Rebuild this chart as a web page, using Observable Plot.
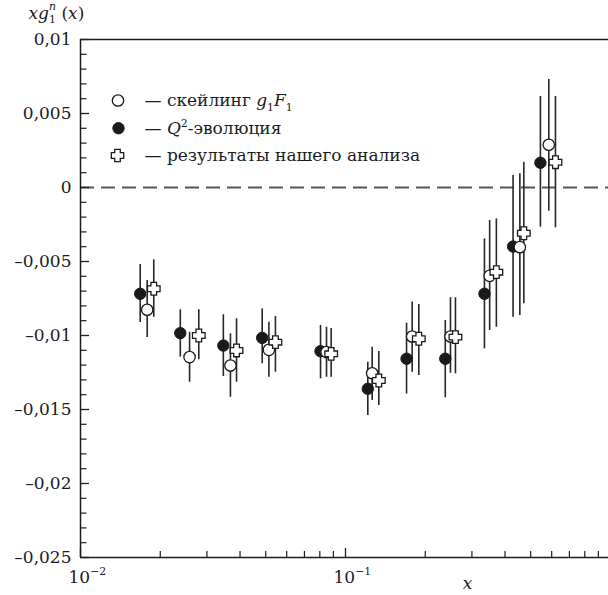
<!DOCTYPE html>
<html>
<head>
<meta charset="utf-8">
<script src="https://cdn.jsdelivr.net/npm/d3@7"></script>
<script src="https://cdn.jsdelivr.net/npm/@observablehq/plot@0.6"></script>
<style>
  html, body { margin: 0; padding: 0; background: #fff; }
  svg { display: block; }
  #chart svg, #chart svg text { font-family: "DejaVu Serif", "Liberation Serif", serif !important; }
</style>
</head>
<body>
<div id="chart"></div>
<script>
// ---------- data ----------
// ○ scaling g1F1
const scalingX  = [0.01785, 0.0258, 0.0368, 0.0514, 0.0848, 0.1261, 0.1785, 0.249, 0.350, 0.455, 0.585];
const scalingY  = [-0.00826, -0.01146, -0.01203, -0.01097, -0.01112, -0.01255, -0.01007, -0.01007, -0.00597, -0.00403, 0.00289];
const scalingLo = [-0.01014, -0.01316, -0.01417, -0.01282, -0.01282, -0.01439, -0.01248, -0.01255, -0.00966, -0.00865, -0.00160];
const scalingHi = [-0.00628, -0.00978, -0.00989, -0.00910, -0.00944, -0.01079, -0.00774, -0.00745, -0.00223, 0.00093, 0.00730];

// ● Q^2 evolution
const evolX  = [0.0168, 0.0238, 0.0346, 0.0485, 0.0805, 0.1214, 0.170, 0.238, 0.3345, 0.429, 0.544];
const evolY  = [-0.00718, -0.00984, -0.01068, -0.01016, -0.01106, -0.01360, -0.01157, -0.01157, -0.00718, -0.00399, 0.00167];
const evolLo = [-0.00912, -0.01146, -0.01277, -0.01191, -0.01293, -0.01541, -0.01395, -0.01421, -0.01090, -0.00876, -0.00268];
const evolHi = [-0.00520, -0.00826, -0.00860, -0.00820, -0.00932, -0.01180, -0.00917, -0.00899, -0.00347, 0.00081, 0.00615];

// ✚ our analysis
const oursX  = [0.0189, 0.02795, 0.0388, 0.0544, 0.0883, 0.1336, 0.1891, 0.260, 0.371, 0.471, 0.620];
const oursY  = [-0.00684, -0.01000, -0.01101, -0.01045, -0.01124, -0.01304, -0.01022, -0.01011, -0.00572, -0.00309, 0.00171];
const oursLo = [-0.00877, -0.01164, -0.01316, -0.01248, -0.01282, -0.01473, -0.01270, -0.01259, -0.00944, -0.00786, -0.00272];
const oursHi = [-0.00489, -0.00826, -0.00887, -0.00872, -0.00953, -0.01108, -0.00791, -0.00745, -0.00212, 0.00171, 0.00615];

// axes
const yTickValues = [0.01, 0.005, 0, -0.005, -0.01, -0.015, -0.02, -0.025];
const yTickLabels = ["0,01", "0,005", "0", "\u20130,005", "\u20130,01", "\u20130,015", "\u20130,02", "\u20130,025"];
const xTickValues = [0.01, 0.1];
const xTickLabels = ["10^{\u22122}", "10^{\u22121}"];
const xMinorValues = [0.02, 0.03, 0.04, 0.05, 0.06, 0.07, 0.08, 0.09, 0.2, 0.3, 0.4, 0.5, 0.6, 0.7, 0.8, 0.9];
const yMinorValues = d3.range(-25, 11).map(i => i / 1000).filter(v => !yTickValues.some(t => Math.abs(t - v) < 1e-9));
const xDomain = [0.01, 0.983];
const yDomain = [-0.025, 0.01];

const yTitle = "*xg*_{1}^{*n*} (*x*)";
const xTitle = "*x*";
const legendLabels = ["\u2014 \u0441\u043a\u0435\u0439\u043b\u0438\u043d\u0433 *g*_{1}*F*_{1}",
                      "\u2014 *Q*^{2}-\u044d\u0432\u043e\u043b\u044e\u0446\u0438\u044f",
                      "\u2014 \u0440\u0435\u0437\u0443\u043b\u044c\u0442\u0430\u0442\u044b \u043d\u0430\u0448\u0435\u0433\u043e \u0430\u043d\u0430\u043b\u0438\u0437\u0430"];

// ---------- build ----------
const rows = (xs, ys, lo, hi) => xs.map((x, i) => ({x, y: ys[i], lo: lo[i], hi: hi[i]}));
const scaling = rows(scalingX, scalingY, scalingLo, scalingHi);
const evol = rows(evolX, evolY, evolLo, evolHi);
const ours = rows(oursX, oursY, oursLo, oursHi);

const crossSymbol = {
  draw(ctx, size) {
    const L = Math.sqrt(size / Math.PI), a = L * 0.45;
    ctx.moveTo(-a, -L); ctx.lineTo(a, -L); ctx.lineTo(a, -a); ctx.lineTo(L, -a);
    ctx.lineTo(L, a); ctx.lineTo(a, a); ctx.lineTo(a, L); ctx.lineTo(-a, L);
    ctx.lineTo(-a, a); ctx.lineTo(-L, a); ctx.lineTo(-L, -a); ctx.lineTo(-a, -a);
    ctx.closePath();
  }
};

const W = 608, H = 595, mL = 80, mR = 0, mT = 39, mB = 38;
const fw = W - mL - mR, fh = H - mT - mB;
const INK = "#1c1c1c";
const FS = 17;
const font = "DejaVu Serif";

const bar = {stroke: "#262626", strokeWidth: 1.6};
const R = 5.7;
const legendDy = [61, 88.7, 116];
const txt = {fontSize: FS, fill: INK, fontFamily: font};

const chart = Plot.plot({
  width: W, height: H,
  marginLeft: mL, marginRight: mR, marginTop: mT, marginBottom: mB,
  x: {type: "log", domain: xDomain, axis: null},
  y: {domain: yDomain, axis: null},
  style: {background: "#fff", color: INK, overflow: "visible"},
  marks: [
    // zero line
    Plot.ruleY([0], {stroke: "#555", strokeWidth: 2, strokeDasharray: "14,7"}),
    // frame
    Plot.ruleY([yDomain[1]], {stroke: INK, strokeWidth: 1.4}),
    Plot.ruleY([yDomain[0]], {stroke: INK, strokeWidth: 1.6}),
    Plot.ruleX([xDomain[0]], {stroke: INK, strokeWidth: 1.5}),
    // inward ticks
    Plot.tickY(yTickValues, {y: d => d, insetRight: fw - 9, stroke: INK, strokeWidth: 1.3}),
    Plot.tickY(yMinorValues, {y: d => d, insetRight: fw - 6.5, stroke: INK, strokeWidth: 1.2}),
    Plot.tickX(xTickValues, {x: d => d, insetTop: fh - 9, stroke: INK, strokeWidth: 1.3}),
    Plot.tickX(xMinorValues, {x: d => d, insetTop: fh - 6, stroke: INK, strokeWidth: 1.2}),
    // tick labels
    Plot.text(yTickValues, {y: d => d, frameAnchor: "left", dx: -9, textAnchor: "end",
      text: (d, i) => yTickLabels[i], ...txt}),
    Plot.text(xTickValues, {x: d => d, frameAnchor: "bottom", dy: 25, dx: -12, textAnchor: "start",
      lineAnchor: "bottom", text: (d, i) => xTickLabels[i], ...txt}),
    // titles
    Plot.text([yTitle], {frameAnchor: "top-left", dx: -52, dy: -21, textAnchor: "start",
      lineAnchor: "bottom", text: d => d, ...txt}),
    Plot.text([xTitle], {frameAnchor: "bottom", dx: 123, dy: 31, textAnchor: "middle",
      lineAnchor: "bottom", text: d => d, ...txt}),
    // error bars
    Plot.ruleX(evol, {x: "x", y1: "lo", y2: "hi", ...bar}),
    Plot.ruleX(scaling, {x: "x", y1: "lo", y2: "hi", ...bar}),
    Plot.ruleX(ours, {x: "x", y1: "lo", y2: "hi", ...bar}),
    // markers
    Plot.dot(evol, {x: "x", y: "y", r: R, fill: "#1a1a1a", stroke: "#1a1a1a", strokeWidth: 1}),
    Plot.dot(scaling, {x: "x", y: "y", r: R, fill: "#fff", stroke: "#1a1a1a", strokeWidth: 1.3}),
    Plot.dot(ours, {x: "x", y: "y", r: 6.3, symbol: crossSymbol, fill: "#fff", stroke: "#1a1a1a", strokeWidth: 1.3}),
    // legend
    Plot.dot([0], {frameAnchor: "top-left", dx: 37.5, dy: legendDy[0], r: R, fill: "#fff", stroke: "#1a1a1a", strokeWidth: 1.3}),
    Plot.dot([0], {frameAnchor: "top-left", dx: 38, dy: legendDy[1], r: R, fill: "#1a1a1a", stroke: "#1a1a1a", strokeWidth: 1}),
    Plot.dot([0], {frameAnchor: "top-left", dx: 37, dy: legendDy[2], r: 6.2, symbol: crossSymbol, fill: "#fff", stroke: "#1a1a1a", strokeWidth: 1.3}),
    ...legendLabels.map((label, i) => Plot.text([label], {frameAnchor: "top-left", dx: 64, dy: legendDy[i],
      textAnchor: "start", lineAnchor: "middle", text: d => d, ...txt}))
  ]
});

document.getElementById("chart").appendChild(chart);

// ---------- rich text: *italic*, _{sub}, ^{sup} ----------
function parseRich(str) {
  const out = []; let i = 0, italic = false, buf = "";
  const flush = () => { if (buf) out.push([buf, italic ? "i" : ""]); buf = ""; };
  while (i < str.length) {
    const c = str[i];
    if (c === "*") { flush(); italic = !italic; i++; }
    else if ((c === "_" || c === "^") && str[i + 1] === "{") {
      flush();
      const j = str.indexOf("}", i);
      let content = str.slice(i + 2, j), it = false;
      if (content.startsWith("*") && content.endsWith("*")) { content = content.slice(1, -1); it = true; }
      out.push([content, (c === "_" ? "sub" : "sup") + (it ? "i" : "")]);
      i = j + 1;
    } else { buf += c; i++; }
  }
  flush();
  return out;
}
function applyRich(svg) {
  const NS = "http://www.w3.org/2000/svg";
  for (const t of svg.querySelectorAll("text")) {
    const s = t.textContent;
    if (!/[*_^]/.test(s)) continue;
    const B = parseFloat(getComputedStyle(t).fontSize) || FS;
    const segs = parseRich(s);
    while (t.firstChild) t.removeChild(t.firstChild);
    let cur = 0, prev = null, prevKind = "";
    for (const [part, kind] of segs) {
      const ts = document.createElementNS(NS, "tspan");
      ts.textContent = part;
      let off = 0;
      const stacked = kind.startsWith("sup") && prevKind.startsWith("sub");
      if (kind.startsWith("sup")) { off = (stacked ? -0.5 : -0.42) * B; ts.setAttribute("font-size", (0.64 * B).toFixed(2)); }
      else if (kind.startsWith("sub")) { off = 0.27 * B; ts.setAttribute("font-size", (0.64 * B).toFixed(2)); }
      if (kind.endsWith("i")) ts.setAttribute("font-style", "italic");
      if (off !== cur) ts.setAttribute("dy", (off - cur).toFixed(2));
      cur = off;
      t.appendChild(ts);
      if (stacked && prev) {
        ts.setAttribute("dx", (-prev.getComputedTextLength()).toFixed(2));
      }
      prev = ts; prevKind = kind;
    }
  }
}
applyRich(chart);
</script>
</body>
</html>
